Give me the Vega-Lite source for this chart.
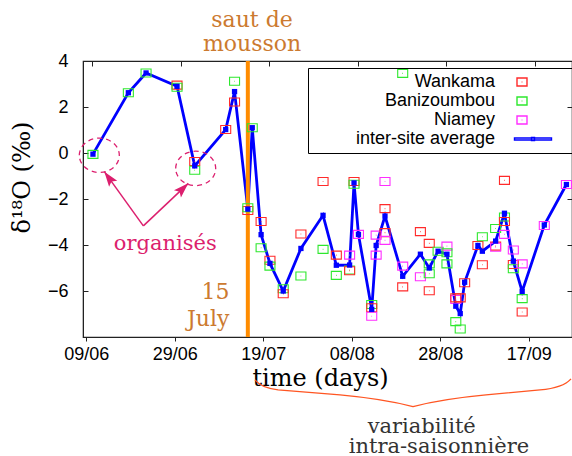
{
  "$schema": "https://vega.github.io/schema/vega-lite/v6.json",
  "width": 489,
  "height": 276,
  "autosize": {"type": "none"},
  "padding": {"left": 83, "top": 61, "right": 0, "bottom": 119},
  "background": "white",
  "config": {"view": {"stroke": "#222222", "strokeWidth": 1.2}, "axis": {"grid": false}},
  "datasets": {
    "obs": [
      {"date": "2006-06-10T12:00:00Z", "value": -0.06, "series": "Banizoumbou"},
      {"date": "2006-06-10T12:00:00Z", "value": -0.05, "series": "inter-site average"},
      {"date": "2006-06-18T12:00:00Z", "value": 2.62, "series": "Banizoumbou"},
      {"date": "2006-06-18T12:00:00Z", "value": 2.62, "series": "inter-site average"},
      {"date": "2006-06-22T12:00:00Z", "value": 3.48, "series": "Banizoumbou"},
      {"date": "2006-06-22T12:00:00Z", "value": 3.48, "series": "inter-site average"},
      {"date": "2006-06-29T12:00:00Z", "value": 2.95, "series": "Wankama"},
      {"date": "2006-06-29T12:00:00Z", "value": 2.86, "series": "Banizoumbou"},
      {"date": "2006-06-29T12:00:00Z", "value": 2.9, "series": "inter-site average"},
      {"date": "2006-07-03T12:00:00Z", "value": -0.37, "series": "Wankama"},
      {"date": "2006-07-03T12:00:00Z", "value": -0.75, "series": "Banizoumbou"},
      {"date": "2006-07-03T12:00:00Z", "value": -0.56, "series": "inter-site average"},
      {"date": "2006-07-10T12:00:00Z", "value": 1.02, "series": "Wankama"},
      {"date": "2006-07-10T12:00:00Z", "value": 1.02, "series": "inter-site average"},
      {"date": "2006-07-12T12:00:00Z", "value": 3.12, "series": "Banizoumbou"},
      {"date": "2006-07-12T12:00:00Z", "value": 2.22, "series": "Wankama"},
      {"date": "2006-07-12T12:00:00Z", "value": 2.67, "series": "inter-site average"},
      {"date": "2006-07-15T12:00:00Z", "value": -2.5, "series": "Wankama"},
      {"date": "2006-07-15T12:00:00Z", "value": -2.38, "series": "Banizoumbou"},
      {"date": "2006-07-15T12:00:00Z", "value": -2.44, "series": "inter-site average"},
      {"date": "2006-07-16T12:00:00Z", "value": 1.1, "series": "Banizoumbou"},
      {"date": "2006-07-16T12:00:00Z", "value": 1.1, "series": "inter-site average"},
      {"date": "2006-07-18T12:00:00Z", "value": -2.98, "series": "Wankama"},
      {"date": "2006-07-18T12:00:00Z", "value": -4.12, "series": "Banizoumbou"},
      {"date": "2006-07-18T12:00:00Z", "value": -3.55, "series": "inter-site average"},
      {"date": "2006-07-20T12:00:00Z", "value": -4.66, "series": "Wankama"},
      {"date": "2006-07-20T12:00:00Z", "value": -4.92, "series": "Banizoumbou"},
      {"date": "2006-07-20T12:00:00Z", "value": -4.8, "series": "inter-site average"},
      {"date": "2006-07-23T12:00:00Z", "value": -5.9, "series": "Banizoumbou"},
      {"date": "2006-07-23T12:00:00Z", "value": -6.12, "series": "Wankama"},
      {"date": "2006-07-23T12:00:00Z", "value": -6.0, "series": "inter-site average"},
      {"date": "2006-07-27T12:00:00Z", "value": -3.52, "series": "Wankama"},
      {"date": "2006-07-27T12:00:00Z", "value": -5.35, "series": "Banizoumbou"},
      {"date": "2006-07-27T12:00:00Z", "value": -4.15, "series": "inter-site average"},
      {"date": "2006-08-01T12:00:00Z", "value": -1.24, "series": "Wankama"},
      {"date": "2006-08-01T12:00:00Z", "value": -4.19, "series": "Banizoumbou"},
      {"date": "2006-08-01T12:00:00Z", "value": -2.71, "series": "inter-site average"},
      {"date": "2006-08-04T12:00:00Z", "value": -4.44, "series": "Wankama"},
      {"date": "2006-08-04T12:00:00Z", "value": -5.32, "series": "Banizoumbou"},
      {"date": "2006-08-04T12:00:00Z", "value": -4.88, "series": "inter-site average"},
      {"date": "2006-08-07T12:00:00Z", "value": -4.44, "series": "Niamey"},
      {"date": "2006-08-07T12:00:00Z", "value": -5.09, "series": "Banizoumbou"},
      {"date": "2006-08-07T12:00:00Z", "value": -5.12, "series": "Wankama"},
      {"date": "2006-08-07T12:00:00Z", "value": -4.87, "series": "inter-site average"},
      {"date": "2006-08-08T12:00:00Z", "value": -1.24, "series": "Wankama"},
      {"date": "2006-08-08T12:00:00Z", "value": -1.36, "series": "Banizoumbou"},
      {"date": "2006-08-08T12:00:00Z", "value": -1.3, "series": "inter-site average"},
      {"date": "2006-08-09T12:00:00Z", "value": -3.54, "series": "Niamey"},
      {"date": "2006-08-09T12:00:00Z", "value": -3.54, "series": "inter-site average"},
      {"date": "2006-08-12T12:00:00Z", "value": -6.59, "series": "Banizoumbou"},
      {"date": "2006-08-12T12:00:00Z", "value": -6.73, "series": "Wankama"},
      {"date": "2006-08-12T12:00:00Z", "value": -7.1, "series": "Niamey"},
      {"date": "2006-08-12T12:00:00Z", "value": -6.8, "series": "inter-site average"},
      {"date": "2006-08-13T12:00:00Z", "value": -3.57, "series": "Niamey"},
      {"date": "2006-08-13T12:00:00Z", "value": -4.44, "series": "Niamey"},
      {"date": "2006-08-13T12:00:00Z", "value": -4.02, "series": "inter-site average"},
      {"date": "2006-08-15T12:00:00Z", "value": -1.24, "series": "Niamey"},
      {"date": "2006-08-15T12:00:00Z", "value": -2.42, "series": "Wankama"},
      {"date": "2006-08-15T12:00:00Z", "value": -3.46, "series": "Wankama"},
      {"date": "2006-08-15T12:00:00Z", "value": -3.8, "series": "Niamey"},
      {"date": "2006-08-15T12:00:00Z", "value": -2.74, "series": "inter-site average"},
      {"date": "2006-08-19T12:00:00Z", "value": 3.46, "series": "Banizoumbou"},
      {"date": "2006-08-19T12:00:00Z", "value": -4.92, "series": "Niamey"},
      {"date": "2006-08-19T12:00:00Z", "value": -5.82, "series": "Wankama"},
      {"date": "2006-08-19T12:00:00Z", "value": -5.36, "series": "inter-site average"},
      {"date": "2006-08-23T12:00:00Z", "value": -3.42, "series": "Wankama"},
      {"date": "2006-08-23T12:00:00Z", "value": -5.38, "series": "Niamey"},
      {"date": "2006-08-23T12:00:00Z", "value": -4.4, "series": "inter-site average"},
      {"date": "2006-08-25T12:00:00Z", "value": -3.93, "series": "Wankama"},
      {"date": "2006-08-25T12:00:00Z", "value": -4.82, "series": "Banizoumbou"},
      {"date": "2006-08-25T12:00:00Z", "value": -5.25, "series": "Banizoumbou"},
      {"date": "2006-08-25T12:00:00Z", "value": -5.99, "series": "Wankama"},
      {"date": "2006-08-25T12:00:00Z", "value": -5.0, "series": "inter-site average"},
      {"date": "2006-08-27T12:00:00Z", "value": -4.27, "series": "Banizoumbou"},
      {"date": "2006-08-27T12:00:00Z", "value": -4.27, "series": "inter-site average"},
      {"date": "2006-08-29T12:00:00Z", "value": -4.05, "series": "Niamey"},
      {"date": "2006-08-29T12:00:00Z", "value": -4.34, "series": "Banizoumbou"},
      {"date": "2006-08-29T12:00:00Z", "value": -4.82, "series": "Banizoumbou"},
      {"date": "2006-08-29T12:00:00Z", "value": -4.4, "series": "inter-site average"},
      {"date": "2006-08-31T12:00:00Z", "value": -6.37, "series": "Niamey"},
      {"date": "2006-08-31T12:00:00Z", "value": -6.3, "series": "Wankama"},
      {"date": "2006-08-31T12:00:00Z", "value": -7.33, "series": "Banizoumbou"},
      {"date": "2006-08-31T12:00:00Z", "value": -6.66, "series": "inter-site average"},
      {"date": "2006-09-01T12:00:00Z", "value": -6.3, "series": "Wankama"},
      {"date": "2006-09-01T12:00:00Z", "value": -7.65, "series": "Banizoumbou"},
      {"date": "2006-09-01T12:00:00Z", "value": -6.98, "series": "inter-site average"},
      {"date": "2006-09-02T12:00:00Z", "value": -5.64, "series": "Wankama"},
      {"date": "2006-09-02T12:00:00Z", "value": -5.62, "series": "inter-site average"},
      {"date": "2006-09-05T12:00:00Z", "value": -4.02, "series": "Wankama"},
      {"date": "2006-09-05T12:00:00Z", "value": -4.02, "series": "inter-site average"},
      {"date": "2006-09-06T12:00:00Z", "value": -3.64, "series": "Banizoumbou"},
      {"date": "2006-09-06T12:00:00Z", "value": -4.86, "series": "Wankama"},
      {"date": "2006-09-06T12:00:00Z", "value": -4.27, "series": "inter-site average"},
      {"date": "2006-09-09T12:00:00Z", "value": -4.05, "series": "Wankama"},
      {"date": "2006-09-09T12:00:00Z", "value": -4.1, "series": "Niamey"},
      {"date": "2006-09-09T12:00:00Z", "value": -3.28, "series": "Banizoumbou"},
      {"date": "2006-09-09T12:00:00Z", "value": -3.83, "series": "inter-site average"},
      {"date": "2006-09-11T12:00:00Z", "value": -1.19, "series": "Wankama"},
      {"date": "2006-09-11T12:00:00Z", "value": -2.78, "series": "Banizoumbou"},
      {"date": "2006-09-11T12:00:00Z", "value": -2.98, "series": "Wankama"},
      {"date": "2006-09-11T12:00:00Z", "value": -3.54, "series": "Niamey"},
      {"date": "2006-09-11T12:00:00Z", "value": -2.62, "series": "inter-site average"},
      {"date": "2006-09-13T12:00:00Z", "value": -4.22, "series": "Niamey"},
      {"date": "2006-09-13T12:00:00Z", "value": -4.85, "series": "Wankama"},
      {"date": "2006-09-13T12:00:00Z", "value": -5.03, "series": "Banizoumbou"},
      {"date": "2006-09-13T12:00:00Z", "value": -4.7, "series": "inter-site average"},
      {"date": "2006-09-15T12:00:00Z", "value": -4.82, "series": "Niamey"},
      {"date": "2006-09-15T12:00:00Z", "value": -6.33, "series": "Banizoumbou"},
      {"date": "2006-09-15T12:00:00Z", "value": -6.91, "series": "Wankama"},
      {"date": "2006-09-15T12:00:00Z", "value": -6.02, "series": "inter-site average"},
      {"date": "2006-09-20T12:00:00Z", "value": -3.15, "series": "Niamey"},
      {"date": "2006-09-20T12:00:00Z", "value": -3.13, "series": "inter-site average"},
      {"date": "2006-09-25T12:00:00Z", "value": -1.37, "series": "Niamey"},
      {"date": "2006-09-25T12:00:00Z", "value": -1.37, "series": "inter-site average"}
    ]
  },
  "resolve": {"axis": {"x": "independent", "y": "independent"}},
  "layer": [
    {
      "data": {"name": "obs"},
      "transform": [{"filter": "datum.series === 'inter-site average'"}],
      "mark": {"type": "line", "color": "#0000ff", "strokeWidth": 2.8},
      "encoding": {
        "x": {"field": "date", "type": "temporal", "scale": {"type": "utc", "domain": [{"year": 2006, "month": 6, "date": 8, "hours": 6, "utc": true}, {"year": 2006, "month": 9, "date": 26, "hours": 18, "minutes": 15, "utc": true}]}, "axis": null},
        "y": {"field": "value", "type": "quantitative", "scale": {"domain": [-8, 4], "nice": false, "zero": false}, "axis": null}
      }
    },
    {
      "data": {"values": [{"date": "2006-07-15T12:00:00Z"}]},
      "mark": {"type": "rule", "color": "#ff8c00", "strokeWidth": 4},
      "encoding": {
        "x": {"field": "date", "type": "temporal", "scale": {"type": "utc", "domain": [{"year": 2006, "month": 6, "date": 8, "hours": 6, "utc": true}, {"year": 2006, "month": 9, "date": 26, "hours": 18, "minutes": 15, "utc": true}]},
          "axis": {"orient": "top", "values": [{"year": 2006, "month": 6, "date": 9, "utc": true}, {"year": 2006, "month": 6, "date": 29, "utc": true}, {"year": 2006, "month": 7, "date": 19, "utc": true}, {"year": 2006, "month": 8, "date": 8, "utc": true}, {"year": 2006, "month": 8, "date": 28, "utc": true}, {"year": 2006, "month": 9, "date": 17, "utc": true}], "labels": false, "title": null, "domain": false, "ticks": true, "tickSize": -5, "tickColor": "#222222", "tickOffset": 6}}
      }
    },
    {
      "data": {"name": "obs"},
      "transform": [{"filter": "datum.series !== 'inter-site average'"}],
      "mark": {"type": "point", "filled": false, "size": 100, "strokeWidth": 1.1, "opacity": 1},
      "encoding": {
        "x": {"field": "date", "type": "temporal", "scale": {"type": "utc", "domain": [{"year": 2006, "month": 6, "date": 8, "hours": 6, "utc": true}, {"year": 2006, "month": 9, "date": 26, "hours": 18, "minutes": 15, "utc": true}]},
          "axis": {"orient": "bottom", "values": [{"year": 2006, "month": 6, "date": 9, "utc": true}, {"year": 2006, "month": 6, "date": 29, "utc": true}, {"year": 2006, "month": 7, "date": 19, "utc": true}, {"year": 2006, "month": 8, "date": 8, "utc": true}, {"year": 2006, "month": 8, "date": 28, "utc": true}, {"year": 2006, "month": 9, "date": 17, "utc": true}], "format": "%d/%m", "labelFont": "Liberation Sans", "labelFontSize": 18, "labelColor": "black", "labelFlush": false, "labelOverlap": false, "labelDx": 12, "labelPadding": 4, "tickSize": 4, "tickColor": "#222222", "domainColor": "#222222", "title": "time (days)", "titleFont": "DejaVu Serif", "titleFontSize": 24, "titleFontWeight": "normal", "titleColor": "black", "titleX": 237, "titleY": 48, "titleAlign": "center", "titleBaseline": "alphabetic"}},
        "y": {"field": "value", "type": "quantitative", "scale": {"domain": [-8, 4], "nice": false, "zero": false},
          "axis": {"orient": "left", "values": [-6, -4, -2, 0, 2, 4], "tickSize": -5, "labelPadding": 20, "labelFont": "Liberation Sans", "labelFontSize": 18, "labelColor": "black", "tickColor": "#222222", "domainColor": "#222222", "title": "δ¹⁸O (‰)", "titleFont": "DejaVu Serif", "titleFontSize": 24, "titleFontWeight": "normal", "titleColor": "black", "titleAngle": 270, "titleX": -61, "titleY": 116, "titleAlign": "center", "titleBaseline": "middle"}},
        "color": {"field": "series", "type": "nominal",
          "scale": {"domain": ["Wankama", "Banizoumbou", "Niamey", "inter-site average"], "range": ["#ff2a2a", "#2ee82e", "#ff2eff", "#0000ff"]},
          "legend": {"orient": "none", "legendX": 225, "legendY": 7, "title": " ", "titleOrient": "right", "titleFontSize": 1, "titlePadding": 13, "strokeColor": "black", "padding": 5, "rowPadding": 1, "labelFont": "Liberation Sans", "labelFontSize": 18, "labelColor": "black", "labelAlign": "right", "labelOffset": -36, "symbolOffset": 200, "symbolSize": 100, "symbolStrokeWidth": 1.4, "labelLimit": 400}},
        "shape": {"field": "series", "type": "nominal",
          "scale": {"domain": ["Wankama", "Banizoumbou", "Niamey", "inter-site average"], "range": ["M-1,-0.8H1V0.8H-1ZM-0.06,0H0.06", "M-1,-0.8H1V0.8H-1ZM-0.06,0H0.06", "M-1,-0.8H1V0.8H-1ZM-0.06,0H0.06", "M-1.5,-0.2H5.9V0.2H-1.5ZM1.9,-0.3H2.5V0.3H1.9Z"]}}
      }
    },
    {
      "data": {"name": "obs"},
      "transform": [{"filter": "datum.series === 'inter-site average'"}],
      "mark": {"type": "point", "shape": "square", "filled": true, "size": 28, "color": "#0000ff", "opacity": 1},
      "encoding": {
        "x": {"field": "date", "type": "temporal", "scale": {"type": "utc", "domain": [{"year": 2006, "month": 6, "date": 8, "hours": 6, "utc": true}, {"year": 2006, "month": 9, "date": 26, "hours": 18, "minutes": 15, "utc": true}]}, "axis": null},
        "y": {"field": "value", "type": "quantitative", "scale": {"domain": [-8, 4], "nice": false, "zero": false},
          "axis": {"orient": "right", "values": [-6, -4, -2, 0, 2, 4], "labels": false, "title": null, "domain": false, "tickSize": -5, "tickColor": "#222222"}}
      }
    },
    {
      "data": {"values": [{"date": "2006-06-11T22:30:00Z", "value": -0.1}, {"date": "2006-07-03T17:15:00Z", "value": -0.67}]},
      "mark": {"type": "point", "shape": "M-1,0A1,0.86 0 1,1 1,0A1,0.86 0 1,1 -1,0Z", "size": 1600, "filled": false, "color": "#dc1f6e", "strokeWidth": 1.3, "strokeDash": [5, 4], "opacity": 1},
      "encoding": {
        "x": {"field": "date", "type": "temporal", "scale": {"type": "utc", "domain": [{"year": 2006, "month": 6, "date": 8, "hours": 6, "utc": true}, {"year": 2006, "month": 9, "date": 26, "hours": 18, "minutes": 15, "utc": true}]}, "axis": null},
        "y": {"field": "value", "type": "quantitative", "scale": {"domain": [-8, 4], "nice": false, "zero": false}, "axis": null}
      }
    },
    {
      "data": {"values": [{"date": "2006-06-21T21:20:00Z", "value": -3.17, "date2": "2006-06-13T01:40:00Z", "value2": -0.81}, {"date": "2006-06-21T21:20:00Z", "value": -3.17, "date2": "2006-07-02T01:12:00Z", "value2": -1.32}]},
      "mark": {"type": "rule", "color": "#dc1f6e", "strokeWidth": 1.5},
      "encoding": {
        "x": {"field": "date", "type": "temporal", "scale": {"type": "utc", "domain": [{"year": 2006, "month": 6, "date": 8, "hours": 6, "utc": true}, {"year": 2006, "month": 9, "date": 26, "hours": 18, "minutes": 15, "utc": true}]}, "axis": null},
        "y": {"field": "value", "type": "quantitative", "scale": {"domain": [-8, 4], "nice": false, "zero": false}, "axis": null},
        "x2": {"field": "date2"},
        "y2": {"field": "value2"}
      }
    },
    {
      "data": {"values": [{"date": "2006-06-13T01:40:00Z", "value": -0.81}]},
      "mark": {"type": "point", "shape": "M0,0L0.6,1.8L0,1.45L-0.6,1.8Z", "size": 280, "filled": true, "color": "#dc1f6e", "opacity": 1, "angle": 324},
      "encoding": {
        "x": {"field": "date", "type": "temporal", "scale": {"type": "utc", "domain": [{"year": 2006, "month": 6, "date": 8, "hours": 6, "utc": true}, {"year": 2006, "month": 9, "date": 26, "hours": 18, "minutes": 15, "utc": true}]}, "axis": null},
        "y": {"field": "value", "type": "quantitative", "scale": {"domain": [-8, 4], "nice": false, "zero": false}, "axis": null}
      }
    },
    {
      "data": {"values": [{"date": "2006-07-02T01:12:00Z", "value": -1.32}]},
      "mark": {"type": "point", "shape": "M0,0L0.6,1.8L0,1.45L-0.6,1.8Z", "size": 280, "filled": true, "color": "#dc1f6e", "opacity": 1, "angle": 46},
      "encoding": {
        "x": {"field": "date", "type": "temporal", "scale": {"type": "utc", "domain": [{"year": 2006, "month": 6, "date": 8, "hours": 6, "utc": true}, {"year": 2006, "month": 9, "date": 26, "hours": 18, "minutes": 15, "utc": true}]}, "axis": null},
        "y": {"field": "value", "type": "quantitative", "scale": {"domain": [-8, 4], "nice": false, "zero": false}, "axis": null}
      }
    },
    {
      "data": {"values": [{"date": "2006-07-16T10:48:00Z", "value": 5.49, "label": "saut de"}, {"date": "2006-07-16T10:48:00Z", "value": 4.45, "label": "mousson"}]},
      "mark": {"type": "text", "font": "DejaVu Serif", "fontSize": 22, "color": "#cc7a30", "align": "center", "baseline": "alphabetic"},
      "encoding": {
        "x": {"field": "date", "type": "temporal", "scale": {"type": "utc", "domain": [{"year": 2006, "month": 6, "date": 8, "hours": 6, "utc": true}, {"year": 2006, "month": 9, "date": 26, "hours": 18, "minutes": 15, "utc": true}]}, "axis": null},
        "y": {"field": "value", "type": "quantitative", "scale": {"domain": [-8, 4], "nice": false, "zero": false}, "axis": null},
        "text": {"field": "label"}
      }
    },
    {
      "data": {"values": [{"date": "2006-07-11T08:38:00Z", "value": -6.36, "label": "15"}, {"date": "2006-07-11T08:38:00Z", "value": -7.52, "label": "July"}]},
      "mark": {"type": "text", "font": "DejaVu Serif", "fontSize": 22, "color": "#cc7a30", "align": "right", "baseline": "alphabetic"},
      "encoding": {
        "x": {"field": "date", "type": "temporal", "scale": {"type": "utc", "domain": [{"year": 2006, "month": 6, "date": 8, "hours": 6, "utc": true}, {"year": 2006, "month": 9, "date": 26, "hours": 18, "minutes": 15, "utc": true}]}, "axis": null},
        "y": {"field": "value", "type": "quantitative", "scale": {"domain": [-8, 4], "nice": false, "zero": false}, "axis": null},
        "text": {"field": "label"}
      }
    },
    {
      "data": {"values": [{"date": "2006-06-26T20:24:00Z", "value": -4.22, "label": "organisés"}]},
      "mark": {"type": "text", "font": "DejaVu Serif", "fontSize": 21, "color": "#dc1f6e", "align": "center", "baseline": "alphabetic"},
      "encoding": {
        "x": {"field": "date", "type": "temporal", "scale": {"type": "utc", "domain": [{"year": 2006, "month": 6, "date": 8, "hours": 6, "utc": true}, {"year": 2006, "month": 9, "date": 26, "hours": 18, "minutes": 15, "utc": true}]}, "axis": null},
        "y": {"field": "value", "type": "quantitative", "scale": {"domain": [-8, 4], "nice": false, "zero": false}, "axis": null},
        "text": {"field": "label"}
      }
    },
    {
      "data": {"values": [{"date": "2006-08-23T19:12:00Z", "value": -12.16, "label": "variabilité"}, {"date": "2006-08-27T16:48:00Z", "value": -13.06, "label": "intra-saisonnière"}]},
      "mark": {"type": "text", "font": "DejaVu Serif", "fontSize": 21, "color": "#333333", "align": "center", "baseline": "alphabetic"},
      "encoding": {
        "x": {"field": "date", "type": "temporal", "scale": {"type": "utc", "domain": [{"year": 2006, "month": 6, "date": 8, "hours": 6, "utc": true}, {"year": 2006, "month": 9, "date": 26, "hours": 18, "minutes": 15, "utc": true}]}, "axis": null},
        "y": {"field": "value", "type": "quantitative", "scale": {"domain": [-8, 4], "nice": false, "zero": false}, "axis": null},
        "text": {"field": "label"}
      }
    },
    {
      "data": {"values": [{"date": "2006-08-21T19:55:00Z", "value": -10.43}]},
      "mark": {"type": "point", "shape": "M-1,-0.082Q-0.962,-0.032 -0.854,-0.019L-0.462,0.013Q-0.19,0.038 0,0.087Q0.19,0.038 0.462,0.013L0.804,-0.019Q0.95,-0.032 1,-0.089", "size": 99856, "filled": false, "color": "#ff5522", "strokeWidth": 1.3, "opacity": 1},
      "encoding": {
        "x": {"field": "date", "type": "temporal", "scale": {"type": "utc", "domain": [{"year": 2006, "month": 6, "date": 8, "hours": 6, "utc": true}, {"year": 2006, "month": 9, "date": 26, "hours": 18, "minutes": 15, "utc": true}]}, "axis": null},
        "y": {"field": "value", "type": "quantitative", "scale": {"domain": [-8, 4], "nice": false, "zero": false}, "axis": null}
      }
    }
  ]
}
